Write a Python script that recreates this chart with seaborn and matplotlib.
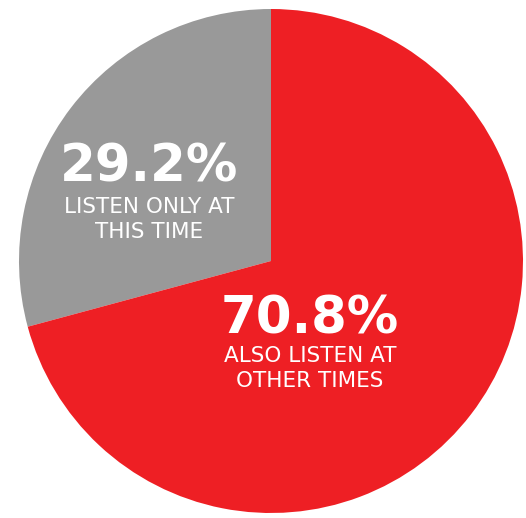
import matplotlib
matplotlib.use("Agg")
import matplotlib.pyplot as plt
import seaborn as sns

categories = ["LISTEN ONLY AT\nTHIS TIME", "ALSO LISTEN AT\nOTHER TIMES"]
values = [29.2, 70.8]
pct_labels = ["29.2%", "70.8%"]
colors = ["#999999", "#EE1F24"]

sns.set_theme(style="white")
plt.rcParams['font.family'] = ['DejaVu Sans']

W, H = 526, 518
fig = plt.figure(figsize=(W / 100, H / 100), dpi=100)
ax = fig.add_axes([0, 0, 1, 1])

cx, cy, r = 271, 261, 252
ax.pie(values, colors=colors, startangle=90, counterclock=True,
       center=(cx, H - cy), radius=r, frame=True,
       wedgeprops=dict(linewidth=0))
ax.set_xlim(0, W)
ax.set_ylim(0, H)
ax.set_aspect('equal')
ax.axis('off')

# (x centre, percent baseline, label line baselines) in pixel coords from top
pos = [(149, 182, (213, 238)), (310, 334, (362, 387))]
for (x, yp, yls), p, c in zip(pos, pct_labels, categories):
    ax.text(x, H - yp, p, color="white", fontsize=37, fontweight="bold",
            ha="center", va="baseline")
    for yl, line in zip(yls, c.split("\n")):
        ax.text(x, H - yl, line, color="white", fontsize=15.5,
                fontweight="normal", ha="center", va="baseline")

fig.savefig("out.png", dpi=100)
